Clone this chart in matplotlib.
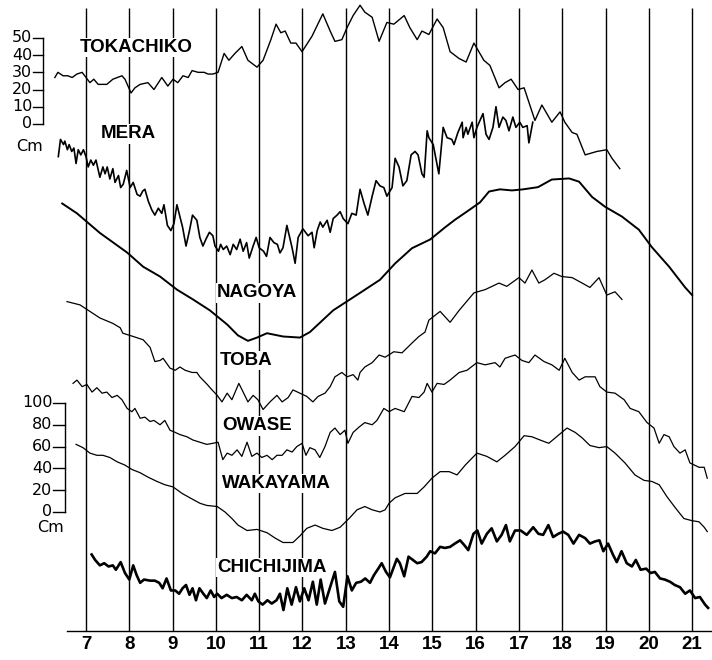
import matplotlib.pyplot as plt

plt.rcParams['font.family'] = ['Liberation Sans', 'DejaVu Sans']

# hours of the day on the x axis
hours = list(range(7, 22))

# TOKACHIKO and MERA: cm on the upper (0-50) scale
toka_t = [6.28, 6.35, 6.47, 6.58, 6.68, 6.79, 6.91, 7.00, 7.09, 7.18, 7.28, 7.48, 7.62, 7.83, 7.90,
          8.04, 8.13, 8.25, 8.43, 8.57, 8.75, 8.89, 9.01, 9.12, 9.24, 9.36, 9.45, 9.59, 9.73, 9.82,
          9.93, 10.05, 10.19, 10.30, 10.44, 10.60, 10.74, 10.95, 11.09, 11.27, 11.39, 11.50, 11.60,
          11.73, 11.85, 11.99, 12.22, 12.47, 12.64, 12.75, 12.91, 13.03, 13.17, 13.33, 13.44, 13.61,
          13.77, 13.95, 14.11, 14.35, 14.48, 14.65, 14.76, 14.92, 15.11, 15.25, 15.41, 15.62, 15.78,
          15.96, 16.19, 16.33, 16.54, 16.68, 16.82, 16.98, 17.12, 17.37, 17.53, 17.76, 17.95, 18.06,
          18.23, 18.34, 18.53, 18.80, 19.03, 19.15, 19.33]
toka_cm = [27, 30, 28, 28, 27, 29, 30, 27, 24, 26, 23, 23, 26, 28, 26,
           18, 21, 23, 24, 20, 27, 22, 26, 24, 28, 27, 31, 30, 30, 29,
           29, 30, 41, 37, 41, 45, 37, 33, 37, 49, 58, 53, 54,
           47, 47, 42, 51, 64, 54, 48, 49, 56, 63, 69, 65, 62,
           48, 59, 58, 63, 56, 49, 54, 52, 61, 56, 42, 38, 36,
           47, 37, 34, 21, 24, 26, 20, 21, 2, 11, 1, 7, 1,
           -5, -6, -18, -16, -15, -20, -26]

mera_t = [6.36, 6.41, 6.48, 6.51, 6.57, 6.61, 6.67, 6.72, 6.77, 6.82, 6.88, 6.94, 7.00, 7.05, 7.11,
          7.17, 7.23, 7.32, 7.39, 7.44, 7.49, 7.55, 7.62, 7.67, 7.75, 7.80, 7.86, 7.94, 8.02, 8.09,
          8.18, 8.25, 8.31, 8.36, 8.44, 8.52, 8.59, 8.67, 8.75, 8.80, 8.88, 8.96, 9.03, 9.10, 9.17,
          9.23, 9.31, 9.39, 9.46, 9.56, 9.63, 9.70, 9.77, 9.85, 9.93, 9.98, 10.06, 10.11, 10.17,
          10.25, 10.33, 10.40, 10.48, 10.56, 10.63, 10.71, 10.77, 10.86, 10.93, 11.00, 11.10, 11.17,
          11.25, 11.34, 11.42, 11.48, 11.55, 11.64, 11.76, 11.83, 11.90, 12.01, 12.13, 12.22, 12.27,
          12.34, 12.41, 12.47, 12.57, 12.64, 12.71, 12.80, 12.87, 12.94, 13.05, 13.14, 13.24, 13.33,
          13.42, 13.51, 13.61, 13.70, 13.79, 13.88, 13.95, 14.07, 14.14, 14.23, 14.32, 14.41, 14.51,
          14.60, 14.67, 14.76, 14.81, 14.88, 14.92, 15.02, 15.15, 15.25, 15.34, 15.45, 15.50, 15.59,
          15.69, 15.71, 15.78, 15.82, 15.92, 15.96, 16.03, 16.10, 16.17, 16.24, 16.31, 16.40, 16.47,
          16.54, 16.63, 16.70, 16.77, 16.86, 16.93, 17.02, 17.09, 17.19, 17.23, 17.32]
mera_cm = [-19, -9, -12, -10, -15, -12, -16, -14, -23, -15, -18, -15, -19, -25, -21,
           -24, -21, -31, -25, -29, -25, -32, -26, -34, -30, -37, -35, -27, -37, -34,
           -41, -42, -39, -38, -45, -50, -53, -49, -52, -47, -59, -62, -58, -47, -54,
           -60, -71, -62, -53, -56, -66, -71, -67, -63, -65, -71, -74, -70, -73,
           -71, -76, -70, -73, -67, -74, -69, -78, -71, -66, -72, -74, -77,
           -66, -69, -70, -75, -72, -59, -72, -81, -66, -61, -65, -63, -72,
           -62, -57, -60, -56, -63, -55, -53, -51, -55, -58, -52, -53, -38,
           -46, -53, -42, -33, -36, -37, -42, -37, -20, -25, -36, -33, -18,
           -16, -18, -29, -31, -4, -8, -12, -29, -2, -8, -9, -12, -5,
           1, -8, -2, -6, 1, -8, -2, 2, 6, -6, -9, -2, 10,
           -2, 4, 2, -4, 4, -2, 1, -2, -1, -11, 1]

# the other stations: cm on the lower (0-100) scale
nago_t = [6.45, 6.79, 7.32, 7.95, 8.32, 8.71, 9.10, 9.47, 9.86, 10.26, 10.51, 10.74, 10.95, 11.18,
          11.55, 11.94, 12.17, 12.71, 13.33, 13.79, 14.14, 14.53, 14.95, 15.29, 15.52, 15.85, 16.10,
          16.31, 16.56, 16.84, 17.10, 17.44, 17.76, 18.16, 18.39, 18.69, 18.99, 19.38, 19.77, 20.07,
          20.47, 20.84, 21.00]
nago_cm = [283, 274, 256, 238, 225, 216, 204, 195, 185, 172, 162, 157, 160, 164,
           161, 160, 165, 185, 201, 213, 228, 242, 250, 261, 268, 277, 284,
           294, 296, 295, 296, 298, 305, 306, 303, 289, 280, 271, 259, 243,
           225, 206, 199]

toba_t = [6.56, 6.86, 7.09, 7.32, 7.62, 7.79, 7.85, 8.09, 8.32, 8.48, 8.59, 8.71, 8.78, 8.94, 9.06,
          9.17, 9.29, 9.45, 9.56, 9.63, 9.80, 9.91, 10.03, 10.14, 10.26, 10.37, 10.53, 10.63, 10.74,
          10.86, 10.97, 11.09, 11.25, 11.41, 11.53, 11.67, 11.78, 11.94, 12.10, 12.24, 12.36, 12.52,
          12.64, 12.75, 12.91, 13.03, 13.17, 13.28, 13.33, 13.44, 13.61, 13.77, 13.91, 14.11, 14.30,
          14.53, 14.69, 14.83, 14.92, 15.18, 15.41, 15.62, 15.96, 16.22, 16.54, 16.72, 17.00, 17.14,
          17.30, 17.46, 17.60, 17.81, 17.99, 18.23, 18.46, 18.64, 18.85, 19.03, 19.22, 19.38]
toba_cm = [193, 190, 184, 178, 173, 169, 164, 161, 158, 151, 138, 139, 141, 132, 130,
           133, 130, 128, 128, 124, 117, 112, 107, 101, 109, 103, 118, 110, 101,
           107, 103, 94, 101, 107, 101, 105, 112, 109, 106, 101, 106, 109,
           115, 124, 128, 124, 126, 121, 128, 133, 137, 144, 142, 147, 146,
           155, 161, 165, 176, 184, 174, 185, 201, 204, 210, 207, 215, 210,
           222, 210, 213, 219, 216, 215, 210, 206, 215, 199, 202, 195]

owase_t = [6.70, 6.79, 6.91, 7.02, 7.14, 7.25, 7.37, 7.48, 7.60, 7.72, 7.83, 7.95, 8.06, 8.13, 8.25,
           8.36, 8.48, 8.57, 8.71, 8.82, 8.94, 9.06, 9.17, 9.33, 9.47, 9.63, 9.79, 9.93, 10.05,
           10.16, 10.26, 10.37, 10.49, 10.60, 10.72, 10.83, 10.95, 11.06, 11.18, 11.30, 11.41, 11.53,
           11.64, 11.76, 11.87, 11.99, 12.08, 12.17, 12.29, 12.40, 12.52, 12.64, 12.75, 12.87, 12.98,
           13.05, 13.17, 13.31, 13.44, 13.61, 13.72, 13.88, 14.00, 14.14, 14.35, 14.53, 14.69, 14.81,
           14.88, 14.99, 15.11, 15.27, 15.41, 15.62, 15.80, 16.03, 16.22, 16.45, 16.56, 16.68, 16.91,
           17.07, 17.23, 17.37, 17.58, 17.76, 17.93, 18.06, 18.23, 18.39, 18.53, 18.76, 18.87, 19.03,
           19.22, 19.43, 19.57, 19.77, 19.96, 20.12, 20.24, 20.35, 20.47, 20.58, 20.72, 20.84, 20.95,
           21.16, 21.28, 21.35]
owase_cm = [118, 121, 115, 117, 110, 114, 109, 110, 105, 107, 103, 95, 92, 95, 86,
            87, 83, 84, 80, 84, 75, 73, 71, 69, 66, 64, 62, 63, 64,
            48, 54, 52, 57, 51, 64, 51, 54, 50, 52, 48, 52, 52,
            57, 55, 60, 63, 52, 59, 57, 50, 60, 73, 77, 71, 75,
            63, 73, 78, 82, 80, 84, 95, 92, 95, 92, 106, 105, 110,
            118, 110, 118, 117, 121, 128, 130, 137, 135, 137, 133, 141, 144,
            139, 137, 144, 138, 135, 130, 141, 128, 121, 124, 124, 115, 110,
            109, 103, 95, 92, 82, 77, 63, 71, 69, 60, 54, 57, 45,
            41, 41, 31]

waka_t = [6.77, 6.93, 7.09, 7.25, 7.39, 7.55, 7.72, 7.90, 8.06, 8.25, 8.43, 8.64, 8.82, 9.01, 9.22,
          9.40, 9.63, 9.79, 10.03, 10.21, 10.37, 10.51, 10.72, 10.95, 11.18, 11.37, 11.55, 11.78,
          11.94, 12.10, 12.29, 12.47, 12.68, 12.87, 13.10, 13.26, 13.44, 13.61, 13.79, 13.91, 14.00,
          14.14, 14.37, 14.65, 14.81, 14.99, 15.18, 15.39, 15.57, 15.76, 16.03, 16.26, 16.49, 16.68,
          16.91, 17.12, 17.30, 17.49, 17.69, 17.93, 18.11, 18.30, 18.46, 18.64, 18.85, 19.03, 19.22,
          19.45, 19.68, 19.89, 20.07, 20.24, 20.42, 20.61, 20.81, 21.00, 21.16, 21.28, 21.35]
waka_cm = [62, 59, 54, 52, 52, 50, 46, 43, 39, 36, 32, 28, 25, 23, 17,
           13, 8, 6, 5, 0, -6, -12, -17, -16, -19, -24, -28, -28,
           -22, -15, -12, -15, -17, -14, -5, 2, 5, 2, 0, 2, 8,
           13, 17, 17, 23, 31, 37, 37, 34, 43, 54, 51, 46, 52,
           60, 70, 69, 66, 63, 71, 77, 73, 68, 61, 59, 60, 54,
           45, 34, 29, 28, 25, 14, 4, -6, -8, -9, -14, -18]

chichi_t = [7.13, 7.21, 7.32, 7.42, 7.52, 7.62, 7.69, 7.80, 7.90, 8.00, 8.09, 8.17, 8.25, 8.34, 8.48,
            8.59, 8.69, 8.77, 8.86, 8.96, 9.06, 9.15, 9.23, 9.31, 9.39, 9.46, 9.54, 9.62, 9.71, 9.79,
            9.88, 9.96, 10.03, 10.13, 10.25, 10.37, 10.48, 10.60, 10.71, 10.83, 10.90, 10.98, 11.08,
            11.19, 11.29, 11.40, 11.48, 11.56, 11.65, 11.75, 11.85, 11.94, 12.04, 12.14, 12.24, 12.33,
            12.42, 12.52, 12.64, 12.75, 12.85, 12.94, 13.04, 13.14, 13.24, 13.35, 13.45, 13.56, 13.65,
            13.75, 13.83, 13.93, 14.02, 14.18, 14.25, 14.35, 14.45, 14.55, 14.65, 14.75, 14.87, 14.95,
            15.06, 15.18, 15.29, 15.41, 15.52, 15.64, 15.73, 15.83, 15.95, 16.04, 16.14, 16.26, 16.37,
            16.49, 16.60, 16.70, 16.79, 16.91, 17.04, 17.18, 17.33, 17.45, 17.56, 17.68, 17.79, 17.91,
            18.02, 18.14, 18.26, 18.39, 18.53, 18.64, 18.76, 18.86, 18.95, 19.06, 19.17, 19.26, 19.37,
            19.49, 19.61, 19.70, 19.81, 19.94, 20.04, 20.14, 20.26, 20.37, 20.49, 20.60, 20.72, 20.84,
            20.95, 21.07, 21.18, 21.30, 21.37]
chichi_cm = [-39, -44, -49, -47, -50, -49, -53, -46, -56, -62, -49, -58, -65, -62, -63,
             -63, -65, -70, -61, -72, -72, -75, -70, -67, -76, -70, -81, -70, -75, -79,
             -72, -78, -75, -79, -76, -79, -78, -81, -76, -81, -75, -82, -85,
             -81, -84, -81, -75, -90, -70, -85, -69, -82, -70, -81, -64, -85,
             -62, -84, -69, -55, -82, -87, -59, -72, -65, -64, -61, -65, -58,
             -52, -47, -55, -60, -43, -47, -59, -41, -44, -47, -46, -41, -36,
             -38, -32, -33, -32, -29, -26, -30, -35, -20, -17, -29, -20, -15,
             -27, -21, -12, -27, -17, -17, -21, -14, -20, -21, -12, -23, -20,
             -18, -21, -29, -21, -24, -29, -27, -26, -36, -29, -39, -46, -36,
             -47, -50, -44, -53, -52, -56, -55, -61, -62, -64, -67, -69, -75,
             -72, -79, -78, -85, -88]

upper_ticks = [0, 10, 20, 30, 40, 50]
lower_ticks = [0, 20, 40, 60, 80, 100]


def upper(v):
    # upper scale is drawn 1.58 times larger, its zero sits 356 lower-cm up
    return [356 + 1.578 * x for x in v]


fig = plt.figure(figsize=(7.12, 6.6), dpi=100)
ax = fig.add_axes([0, 0, 1, 1])
ax.set_xlim(5.013, 21.46)
ax.set_ylim(-135.8, 469.7)

# hour lines
ax.vlines(hours, -109, 462, color='k', lw=1.0)

kw = dict(color='k', solid_joinstyle='round')
ax.plot(toka_t, upper(toka_cm), lw=1.0, **kw)
ax.plot(mera_t, upper(mera_cm), lw=1.2, **kw)
ax.plot(nago_t, nago_cm, lw=1.4, **kw)
ax.plot(toba_t, toba_cm, lw=0.9, **kw)
ax.plot(owase_t, owase_cm, lw=0.9, **kw)
ax.plot(waka_t, waka_cm, lw=0.9, **kw)
ax.plot(chichi_t, chichi_cm, lw=1.9, **kw)

names = [('TOKACHIKO', 8.15, 426), ('MERA', 7.97, 347), ('NAGOYA', 10.95, 201),
         ('TOBA', 10.70, 139), ('OWASE', 10.95, 79), ('WAKAYAMA', 11.39, 26),
         ('CHICHIJIMA', 11.30, -51)]
for name, tx, ty in names:
    ax.text(tx, ty, name, ha='center', va='center', fontsize=13.5, fontweight='bold',
            bbox=dict(facecolor='white', edgecolor='none', pad=1))

scale_font = dict(fontsize=11.5, family='DejaVu Sans')

# upper scale bar
ax.plot([6.006, 6.006], upper([0, 50]), 'k', lw=1.0)
for v in upper_ticks:
    y = upper([v])[0]
    ax.plot([5.78, 6.006], [y, y], 'k', lw=1.0)
    ax.text(5.76, y, str(v), ha='right', va='center', **scale_font)
ax.text(5.70, 335, 'Cm', ha='center', va='center', **scale_font)

# lower scale bar
ax.plot([6.515, 6.515], [0, 100], 'k', lw=1.0)
for v in lower_ticks:
    ax.plot([6.24, 6.515], [v, v], 'k', lw=1.0)
    ax.text(6.22, v, str(v), ha='right', va='center', **scale_font)
ax.text(6.17, -14, 'Cm', ha='center', va='center', **scale_font)

# time axis
for s in ['left', 'right', 'top']:
    ax.spines[s].set_visible(False)
ax.spines['bottom'].set_position(('data', -109))
ax.spines['bottom'].set_bounds(6.56, 21.46)
ax.spines['bottom'].set_linewidth(1.0)
ax.set_xticks(hours, labels=[str(h) for h in hours], fontsize=13.5, fontweight='bold')
ax.tick_params(axis='x', length=0, pad=4)
ax.set_yticks([])

fig.savefig('out.png', dpi=100)
